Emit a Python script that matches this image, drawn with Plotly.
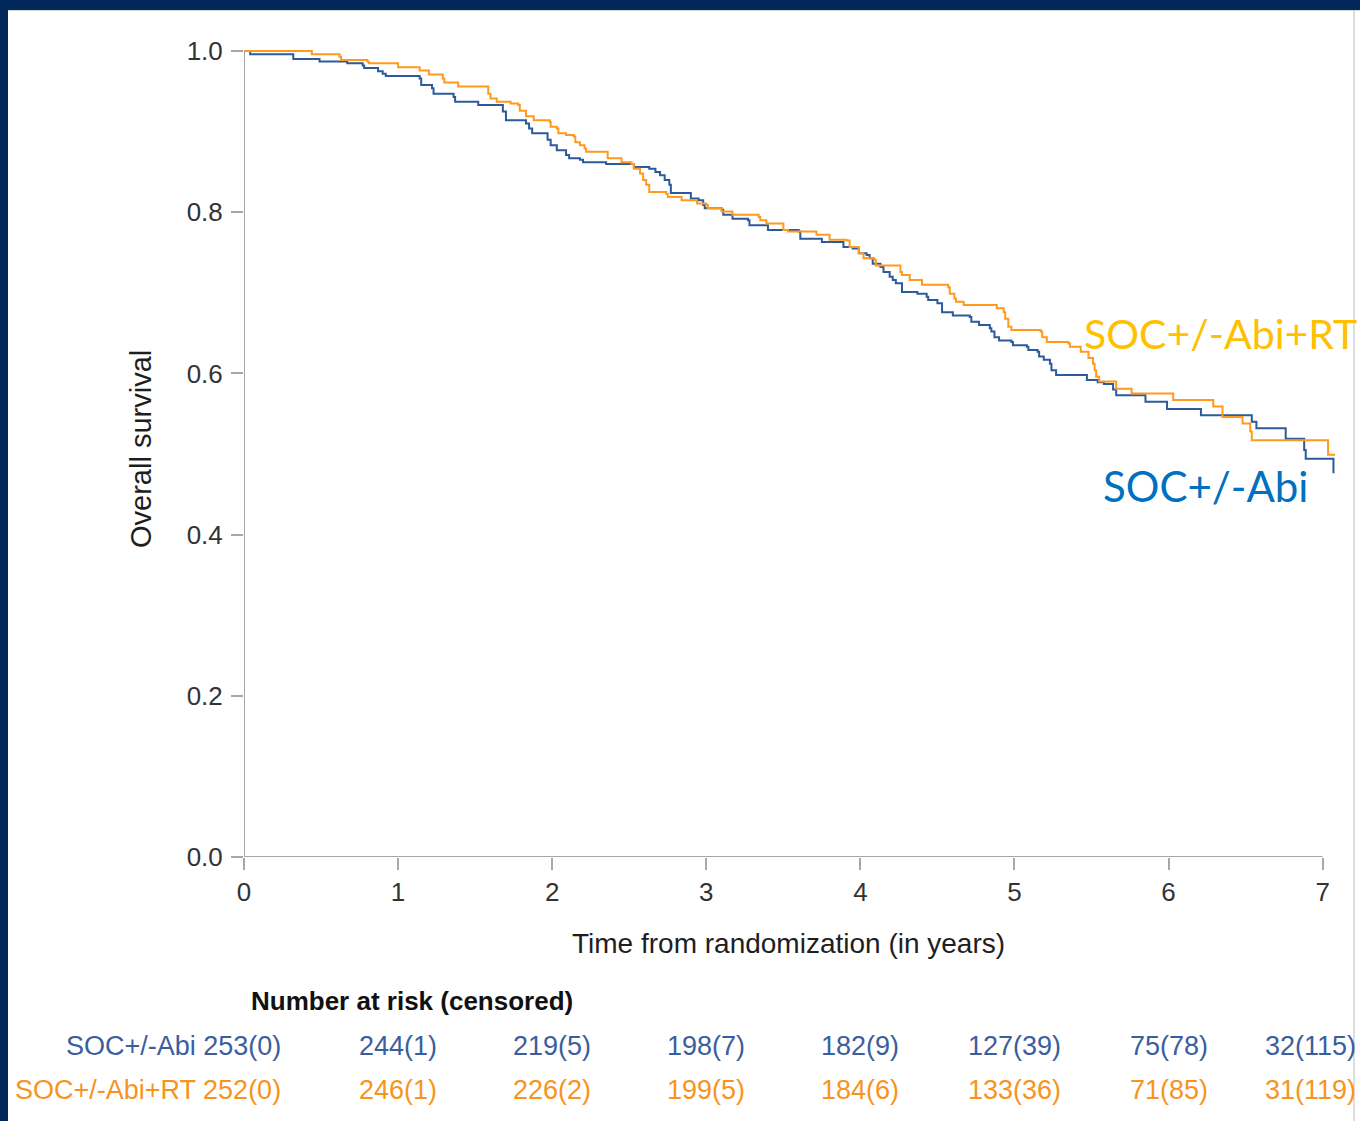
import plotly.graph_objects as go

# Kaplan-Meier step data: event time (years) and survival after the step
abi_t = [0, 0.04, 0.32, 0.49, 0.67, 0.77, 0.78, 0.87, 0.90, 0.92, 1.14, 1.15, 1.22, 1.23,
         1.36, 1.37, 1.52, 1.68, 1.70, 1.83, 1.85, 1.87, 1.97, 1.99, 2.03, 2.09, 2.11,
         2.18, 2.20, 2.35, 2.53, 2.63, 2.67, 2.70, 2.73, 2.76, 2.77, 2.90, 2.95, 2.98,
         2.99, 3.10, 3.11, 3.17, 3.27, 3.28, 3.40, 3.60, 3.61, 3.75, 3.89, 3.95, 3.99,
         4.04, 4.06, 4.08, 4.13, 4.15, 4.19, 4.21, 4.23, 4.27, 4.37, 4.43, 4.44, 4.50,
         4.53, 4.60, 4.71, 4.72, 4.77, 4.84, 4.85, 4.87, 4.90, 4.98, 4.99, 5.08, 5.09,
         5.15, 5.16, 5.19, 5.23, 5.24, 5.27, 5.47, 5.54, 5.58, 5.64, 5.66, 5.85, 5.99,
         6.21, 6.54, 6.57, 6.76, 6.88, 6.89, 7.07]
abi_s = [1.0, 0.996, 0.990, 0.987, 0.985, 0.982, 0.979, 0.975, 0.972, 0.969, 0.966, 0.958,
         0.954, 0.947, 0.943, 0.937, 0.933, 0.925, 0.914, 0.910, 0.904, 0.898, 0.890,
         0.883, 0.877, 0.871, 0.867, 0.865, 0.862, 0.860, 0.856, 0.854, 0.850, 0.846,
         0.840, 0.834, 0.824, 0.817, 0.815, 0.809, 0.805, 0.803, 0.797, 0.792, 0.790,
         0.784, 0.778, 0.776, 0.767, 0.763, 0.757, 0.755, 0.749, 0.747, 0.743, 0.736,
         0.732, 0.726, 0.720, 0.716, 0.712, 0.701, 0.699, 0.695, 0.691, 0.687, 0.676,
         0.672, 0.670, 0.664, 0.660, 0.656, 0.652, 0.645, 0.641, 0.639, 0.635, 0.633,
         0.629, 0.627, 0.621, 0.617, 0.612, 0.604, 0.598, 0.592, 0.589, 0.587, 0.580,
         0.573, 0.565, 0.556, 0.548, 0.540, 0.532, 0.519, 0.505, 0.494, 0.476]

rt_t = [0, 0.44, 0.62, 0.63, 0.80, 0.81, 1.00, 1.14, 1.20, 1.29, 1.30, 1.39, 1.585, 1.60,
        1.64, 1.73, 1.78, 1.79, 1.83, 1.88, 1.985, 1.99, 2.03, 2.04, 2.09, 2.14, 2.15,
        2.18, 2.21, 2.22, 2.36, 2.45, 2.515, 2.53, 2.57, 2.59, 2.61, 2.63, 2.74, 2.75,
        2.84, 2.94, 3.00, 3.01, 3.10, 3.17, 3.34, 3.35, 3.39, 3.50, 3.53, 3.715, 3.80,
        3.91, 3.93, 3.99, 4.02, 4.09, 4.10, 4.26, 4.27, 4.32, 4.40, 4.57, 4.58, 4.61,
        4.62, 4.67, 4.885, 4.93, 4.94, 4.96, 4.98, 5.17, 5.18, 5.21, 5.35, 5.36, 5.43,
        5.48, 5.51, 5.52, 5.53, 5.55, 5.66, 5.76, 6.03, 6.29, 6.35, 6.48, 6.53, 6.54,
        7.035, 7.08]
rt_s = [1.0, 0.996, 0.993, 0.989, 0.987, 0.985, 0.980, 0.976, 0.971, 0.966, 0.961, 0.956,
        0.947, 0.941, 0.937, 0.935, 0.933, 0.926, 0.919, 0.914, 0.912, 0.906, 0.904,
        0.898, 0.896, 0.894, 0.887, 0.883, 0.879, 0.875, 0.867, 0.862, 0.860, 0.854,
        0.848, 0.840, 0.834, 0.825, 0.823, 0.819, 0.815, 0.811, 0.809, 0.805, 0.801,
        0.797, 0.794, 0.790, 0.786, 0.778, 0.776, 0.772, 0.766, 0.765, 0.757, 0.749,
        0.743, 0.741, 0.734, 0.726, 0.722, 0.716, 0.710, 0.707, 0.699, 0.693, 0.689,
        0.685, 0.681, 0.676, 0.668, 0.658, 0.654, 0.652, 0.645, 0.639, 0.637, 0.633,
        0.627, 0.619, 0.612, 0.604, 0.596, 0.590, 0.581, 0.575, 0.567, 0.559, 0.546,
        0.538, 0.528, 0.517, 0.499, 0.499]

# Number at risk (censored) table
risk_times = [0, 1, 2, 3, 4, 5, 6, 7]
abi_risk = ["253(0)", "244(1)", "219(5)", "198(7)", "182(9)", "127(39)", "75(78)", "32(115)"]
rt_risk = ["252(0)", "246(1)", "226(2)", "199(5)", "184(6)", "133(36)", "71(85)", "31(119)"]

y_ticks = [0.0, 0.2, 0.4, 0.6, 0.8, 1.0]
x_ticks = [0, 1, 2, 3, 4, 5, 6, 7]

BLUE = "#2D5A9B"
ORANGE = "#FF9A1E"
BLUE_TXT = "#3A5E9E"
ORANGE_TXT = "#F7941D"
AXIS = "#A4A8AC"
FONT = "Liberation Sans, Arial, sans-serif"

W, H = 1360, 1121
ML, MR, MT, MB = 244, 25, 43, 264
X_MAX, Y_MAX = 7.08, 1.01
plot_w = W - ML - MR
plot_h = H - MT - MB


def px_x(px):
    return (px - ML) / plot_w


def px_y(px):
    return (H - MB - px) / plot_h


fig = go.Figure()
fig.add_trace(go.Scatter(x=abi_t, y=abi_s, mode="lines", line=dict(color=BLUE, width=2, shape="hv"),
                         name="SOC+/-Abi", showlegend=False, hoverinfo="skip"))
fig.add_trace(go.Scatter(x=rt_t, y=rt_s, mode="lines", line=dict(color=ORANGE, width=2, shape="hv"),
                         name="SOC+/-Abi+RT", showlegend=False, hoverinfo="skip"))

shapes = [
    # axis lines
    dict(type="line", xref="x", yref="y", x0=0, x1=7, y0=0, y1=0, line=dict(color=AXIS, width=2)),
    dict(type="line", xref="x", yref="y", x0=0, x1=0, y0=0, y1=1.0, line=dict(color=AXIS, width=2)),
    # frame
    dict(type="rect", xref="paper", yref="paper", x0=px_x(0), x1=px_x(W), y0=px_y(10), y1=px_y(0),
         fillcolor="#02275A", line=dict(width=0), layer="below"),
    dict(type="line", xref="paper", yref="paper", x0=px_x(0), x1=px_x(W), y0=px_y(10.5), y1=px_y(10.5),
         line=dict(color="#D6D8DB", width=1), layer="below"),
    dict(type="rect", xref="paper", yref="paper", x0=px_x(0), x1=px_x(8), y0=px_y(H), y1=px_y(0),
         fillcolor="#02275A", line=dict(width=0), layer="below"),
    dict(type="line", xref="paper", yref="paper", x0=px_x(1354), x1=px_x(1354), y0=px_y(H), y1=px_y(10),
         line=dict(color="#B8BBBF", width=1), layer="below"),
]

annotations = [
    dict(text="Time from randomization (in years)", xref="paper", yref="paper",
         x=px_x(788), y=px_y(943), showarrow=False, xanchor="center", yanchor="middle",
         font=dict(family=FONT, size=28, color="#1E1E1E")),
    dict(text="Overall survival", xref="paper", yref="paper", textangle=-90,
         x=px_x(141), y=px_y(449), showarrow=False, xanchor="center", yanchor="middle",
         font=dict(family=FONT, size=29, color="#1E1E1E")),
    dict(text="<b>Number at risk (censored)</b>", xref="paper", yref="paper",
         x=px_x(412), y=px_y(1001), showarrow=False, xanchor="center", yanchor="middle",
         font=dict(family=FONT, size=26, color="#111111")),
    dict(text="SOC+/-Abi+RT", xref="x", yref="y", x=(1082 - ML) / (plot_w / X_MAX), y=0.650,
         showarrow=False, xanchor="left", yanchor="middle",
         font=dict(family="Lato, sans-serif", size=41, color="#FFC000")),
    dict(text="SOC+/-Abi", xref="x", yref="y", x=(1101 - ML) / (plot_w / X_MAX), y=0.460,
         showarrow=False, xanchor="left", yanchor="middle",
         font=dict(family="Lato, sans-serif", size=42, color="#0070C0")),
]

for row_name, values, color, ypx in [("SOC+/-Abi", abi_risk, BLUE_TXT, 1046),
                                     ("SOC+/-Abi+RT", rt_risk, ORANGE_TXT, 1090)]:
    for t, v in zip(risk_times, values):
        if t == 0:
            annotations.append(dict(text=f"{row_name} {v}", xref="x", yref="paper", x=t, y=px_y(ypx),
                                    xshift=39, showarrow=False, xanchor="right", yanchor="middle",
                                    font=dict(family=FONT, size=27, color=color)))
        elif t == risk_times[-1]:
            # last column kept inside the page edge
            annotations.append(dict(text=v, xref="paper", yref="paper", x=px_x(1358), y=px_y(ypx),
                                    showarrow=False, xanchor="right", yanchor="middle",
                                    font=dict(family=FONT, size=27, color=color)))
        else:
            annotations.append(dict(text=v, xref="x", yref="paper", x=t, y=px_y(ypx),
                                    showarrow=False, xanchor="center", yanchor="middle",
                                    font=dict(family=FONT, size=27, color=color)))

fig.update_layout(
    width=W, height=H,
    margin=dict(l=ML, r=MR, t=MT, b=MB, pad=0),
    paper_bgcolor="white", plot_bgcolor="white",
    shapes=shapes, annotations=annotations,
    xaxis=dict(range=[0, X_MAX], tickvals=x_ticks, ticktext=[str(v) for v in x_ticks],
               showgrid=False, zeroline=False, showline=False,
               ticks="outside", ticklen=12, tickwidth=2, tickcolor=AXIS,
               ticklabelstandoff=0,
               tickfont=dict(family=FONT, size=26, color="#333333")),
    yaxis=dict(range=[0, Y_MAX], tickvals=y_ticks, ticktext=[f"{v:.1f}" for v in y_ticks],
               showgrid=False, zeroline=False, showline=False,
               ticks="outside", ticklen=12, tickwidth=2, tickcolor=AXIS,
               ticklabelstandoff=3,
               tickfont=dict(family=FONT, size=26, color="#333333")),
)

fig.write_html("out.html")
